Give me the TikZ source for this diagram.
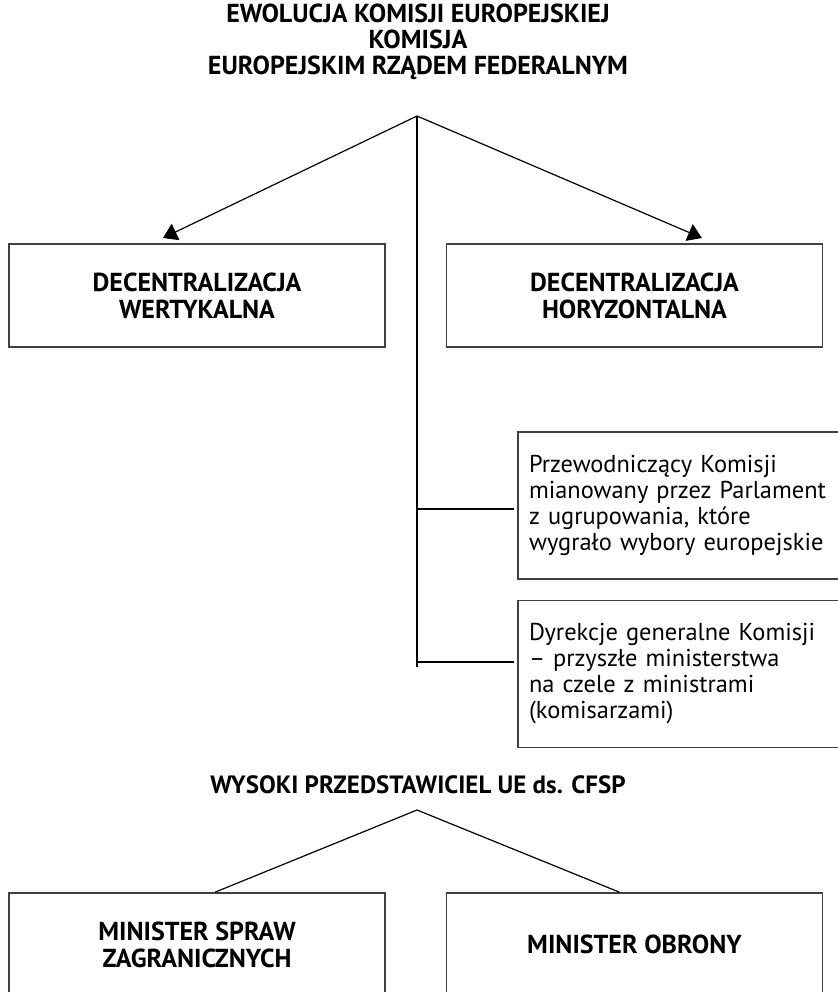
\documentclass[tikz,border=0pt]{standalone}
\usepackage{fontspec}
\setmainfont{PT Sans}
\usetikzlibrary{arrows.meta}

\begin{document}
\begin{tikzpicture}[x=0.5pt,y=-0.5pt,
  box/.style={draw=black!75, line width=0.8pt, fill=white, inner sep=0pt,
    minimum width=188pt, minimum height=51.5pt, align=center,
    font=\fontsize{13}{13.5}\selectfont\bfseries},
  note/.style={box, minimum width=0pt, font=\fontsize{12.2}{13}\selectfont, align=left,
    text width=152.5pt, inner xsep=5.5pt, minimum height=73.5pt},
  head/.style={align=center, font=\fontsize{13}{13}\selectfont\bfseries},
  link/.style={line width=0.6pt},
  arrow/.style={link, -{Triangle[width=9pt,length=7pt]}}]
\useasboundingbox (0,0) rectangle (837,992);

% Upper part: the Commission
\node[head] (title) at (418,42) {EWOLUCJA KOMISJI EUROPEJSKIEJ\\KOMISJA\\EUROPEJSKIM RZĄDEM FEDERALNYM};
\coordinate (top) at (417,116);
\coordinate (spine) at (417,667);

\node[box] (vert) at (197,295.5) {DECENTRALIZACJA\\WERTYKALNA};
\node[box] (horz) at (634.5,295.5) {DECENTRALIZACJA\\HORYZONTALNA};
\coordinate (vtip) at (163,238);
\coordinate (htip) at (702,238);

\node[note] (pres) at (681.5,505.5) {Przewodniczący Komisji\\mianowany przez Parlament\\z ugrupowania, które\\wygrało wybory europejskie};
\node[note] (dyr) at (681.5,674) {Dyrekcje generalne Komisji\\– przyszłe ministerstwa\\na czele z ministrami\\(komisarzami)};

\draw[arrow] (top) -- (vtip);
\draw[arrow] (top) -- (htip);
\draw[link] (top) -- (spine);
\draw[link] ([yshift=-1.75pt]pres.west -| top) -- ([yshift=-1.75pt,xshift=-1.5pt]pres.west);
\draw[link] ([yshift=6pt]dyr.west -| top) -- ([yshift=6pt,xshift=-1.5pt]dyr.west);

% Lower part: the High Representative
\node[head, font=\fontsize{12.5}{13}\selectfont\bfseries] (cfsp) at (418,785) {WYSOKI PRZEDSTAWICIEL UE ds. CFSP};
\coordinate (top2) at (417,810);

\node[box] (fmin) at (197,944.5) {MINISTER SPRAW\\ZAGRANICZNYCH};
\node[box] (dmin) at (634.5,944.5) {MINISTER OBRONY};

\draw[link] (top2) -- ([xshift=9pt]fmin.north);
\draw[link] (top2) -- ([xshift=-7.5pt]dmin.north);
\end{tikzpicture}
\end{document}
